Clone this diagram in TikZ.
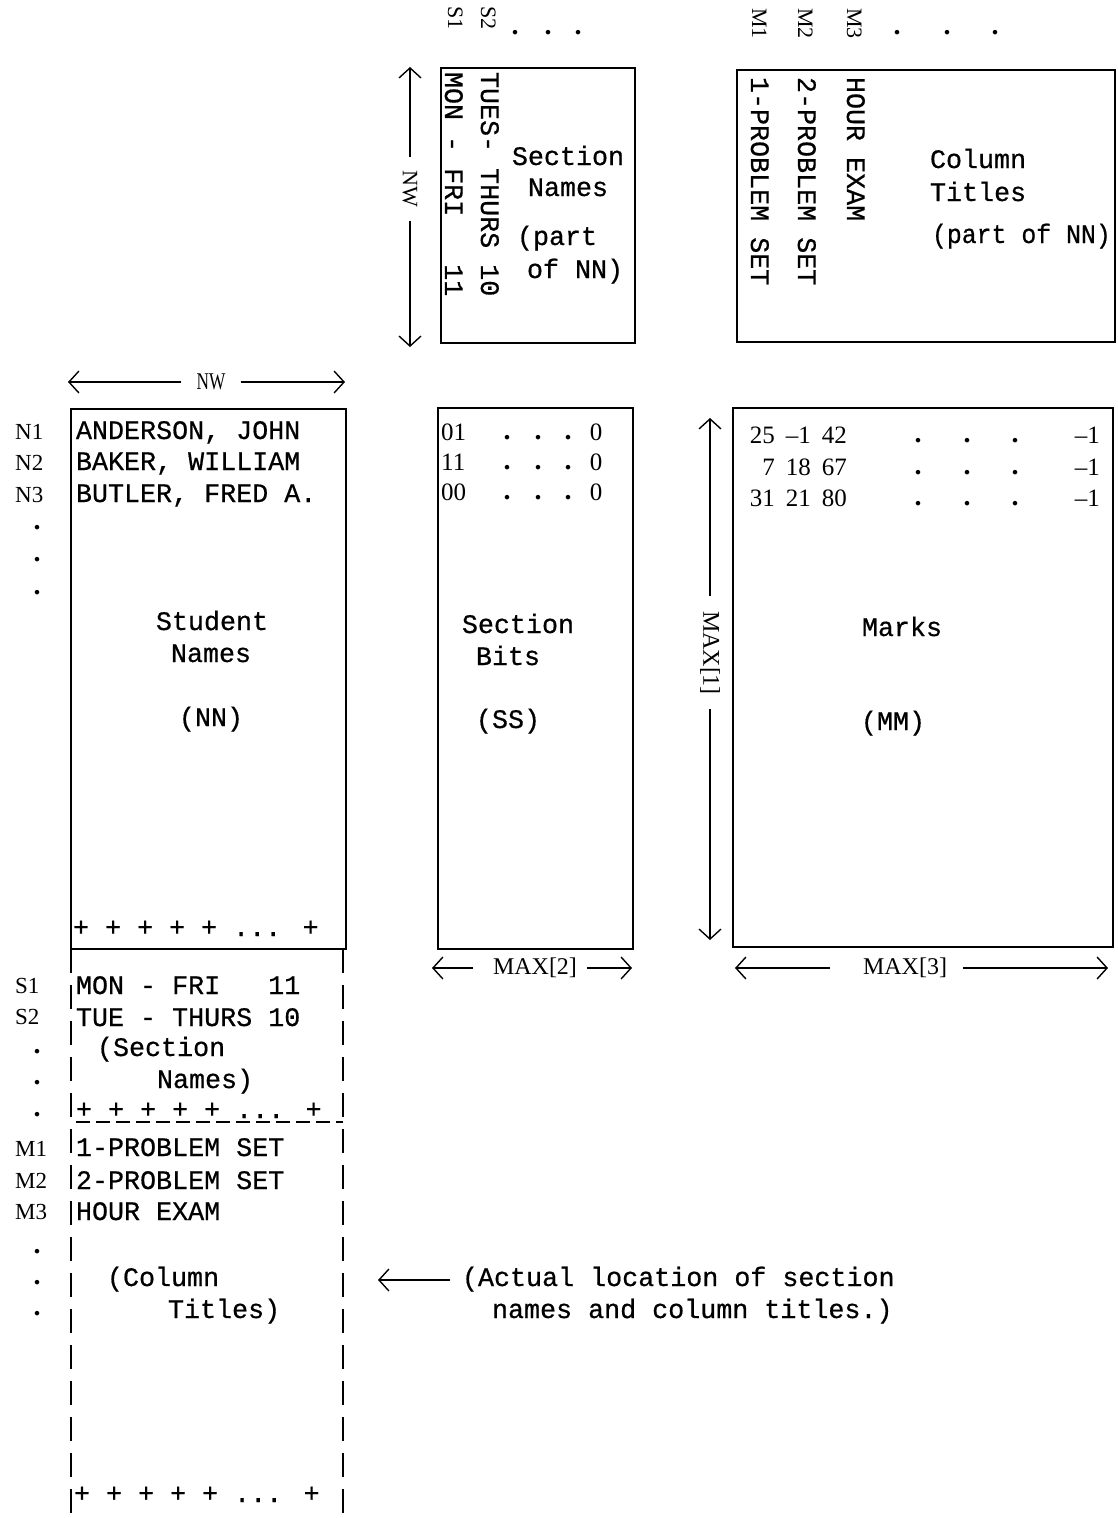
\documentclass[tikz,border=0pt]{standalone}
\usepackage{fontspec}
\setmainfont{Liberation Serif}
\newfontfamily\twfont[FakeBold=0.6]{Liberation Mono}
\usetikzlibrary{arrows.meta}
\begin{document}
\begin{tikzpicture}[x=1pt,y=-1pt,
  tw/.style={font=\twfont\fontsize{26.7}{30}\selectfont, inner sep=0pt, outer sep=0pt},
  twl/.style={tw, anchor=base west},
  twc/.style={tw, anchor=base},
  twr/.style={tw, rotate=-90, anchor=base west},
  lb/.style={font=\fontsize{23}{26}\selectfont, inner sep=0pt, anchor=base west},
  lbr/.style={font=\fontsize{22}{26}\selectfont, inner sep=0pt, rotate=-90, anchor=base west},
  num/.style={font=\fontsize{25}{28}\selectfont, inner sep=0pt, anchor=base east},
  numl/.style={font=\fontsize{25}{28}\selectfont, inner sep=0pt, anchor=base west},
  dotc/.style={font=\bfseries\fontsize{28}{28}\selectfont, inner sep=0pt, anchor=center},
  dimlab/.style={font=\fontsize{24}{28}\selectfont, inner sep=0pt},
  box/.style={draw, line width=2pt, inner sep=0pt, outer sep=0pt, anchor=north west},
  dim/.style={line width=1.4pt, -{Straight Barb[length=10pt,width=22pt,line width=1.4pt]}},
  dashln/.style={line width=2pt, dash pattern=on 24pt off 12pt},
]
\useasboundingbox (0,0) rectangle (1118,1518);

% ---------- boxes ----------
\node[box, minimum width=194pt, minimum height=275pt] (secn) at (441,68) {};
\node[box, minimum width=378pt, minimum height=272pt] (colt) at (737,70) {};
\node[box, minimum width=275pt, minimum height=540pt] (stud) at (71,409) {};
\node[box, minimum width=195pt, minimum height=541pt] (bits) at (438,408) {};
\node[box, minimum width=380pt, minimum height=539pt] (marks) at (733,408) {};

% ---------- top labels ----------
\node[lbr] (s1t) at (448,6) {S1};
\node[lbr] (s2t) at (481,6) {S2};
\node[dotc] (td1) at (515,33) {.};
\node[dotc] (td2) at (548,33) {.};
\node[dotc] (td3) at (578,33) {.};
\node[lbr] (m1t) at (752,8) {M1};
\node[lbr] (m2t) at (798,8) {M2};
\node[lbr] (m3t) at (847,8) {M3};
\node[dotc] (td4) at (897,33) {.};
\node[dotc] (td5) at (947,33) {.};
\node[dotc] (td6) at (995,33) {.};

% section names box contents
\node[twr] (mf) at (445,72) {MON - FRI~~~11};
\node[twr] (tt) at (481,72) {TUES- THURS 10};
\node[twc] (sn1) at (568,165) {Section};
\node[twc] (sn2) at (568,196) {Names};
\node[twl] (sn3) at (517,245) {(part};
\node[twl] (sn4) at (527,278) {of NN)};

% column titles box contents
\node[twr] (p1) at (751,77) {1-PROBLEM SET};
\node[twr] (p2) at (798,77) {2-PROBLEM SET};
\node[twr] (he) at (847,77) {HOUR EXAM};
\node[twl] (ct1) at (930,168) {Column};
\node[twl] (ct2) at (930,201) {Titles};
\node[twl] (ct3) at (932,243) {\scalebox{0.93}[1]{(part of NN)}};

% NW vertical dimension
\node[font=\fontsize{22}{26}\selectfont, inner sep=0pt, rotate=-90] (nwv) at (410,189) {NW};
\coordinate (nwvt) at (410,67);
\coordinate (nwvb) at (410,347);
\draw[dim, shorten <=13pt] (nwv.west) -- (nwvt);
\draw[dim, shorten <=13pt] (nwv.east) -- (nwvb);

% NW horizontal dimension
\node[dimlab] (nwh) at (211,382) {\scalebox{0.72}[1]{NW}};
\coordinate (nwhl) at (68,382);
\coordinate (nwhr) at (345,382);
\draw[dim, shorten <=15pt] (nwh.west) -- (nwhl);
\draw[dim, shorten <=15pt] (nwh.east) -- (nwhr);

% ---------- student names ----------
\node[lb] (n1) at (15,439) {N1};
\node[lb] (n2) at (15,470) {N2};
\node[lb] (n3) at (15,502) {N3};
\node[dotc] (ld1) at (37,528) {.};
\node[dotc] (ld2) at (37,560) {.};
\node[dotc] (ld3) at (37,593) {.};
\node[twl] (r1) at (76,439) {ANDERSON, JOHN};
\node[twl] (r2) at (76,470) {BAKER, WILLIAM};
\node[twl] (r3) at (76,502) {BUTLER, FRED A.};
\node[twc] (st1) at (212,630) {Student};
\node[twc] (st2) at (211,662) {Names};
\node[twc] (st3) at (211,726) {(NN)};
\node[twl] (pl1) at (73,936) {+ + + + + ... +};

% ---------- section bits ----------
\node[numl] (b1) at (441,440) {01};
\node[numl] (b2) at (441,470) {11};
\node[numl] (b3) at (441,500) {00};
\foreach \yy/\nm in {438/a,468/b,498/c}{
  \node[dotc] (bd1\nm) at (507,\yy) {.};
  \node[dotc] (bd2\nm) at (538,\yy) {.};
  \node[dotc] (bd3\nm) at (568,\yy) {.};
}
\node[num, anchor=base] (bz1) at (596,440) {0};
\node[num, anchor=base] (bz2) at (596,470) {0};
\node[num, anchor=base] (bz3) at (596,500) {0};
\node[twc] (sb1) at (518,633) {Section};
\node[twc] (sb2) at (508,665) {Bits};
\node[twc] (sb3) at (508,728) {(SS)};

% ---------- marks ----------
\node[num] (ma1) at (775,443) {25};
\node[num] (ma2) at (811,443) {--1};
\node[num] (ma3) at (847,443) {42};
\node[num] (mb1) at (775,475) {7};
\node[num] (mb2) at (811,475) {18};
\node[num] (mb3) at (847,475) {67};
\node[num] (mc1) at (775,506) {31};
\node[num] (mc2) at (811,506) {21};
\node[num] (mc3) at (847,506) {80};
\foreach \yy/\nm in {441/a,473/b,504/c}{
  \node[dotc] (md1\nm) at (918,\yy) {.};
  \node[dotc] (md2\nm) at (967,\yy) {.};
  \node[dotc] (md3\nm) at (1015,\yy) {.};
}
\node[num] (me1) at (1100,443) {--1};
\node[num] (me2) at (1100,475) {--1};
\node[num] (me3) at (1100,506) {--1};
\node[twc] (mk1) at (902,636) {Marks};
\node[twc] (mk2) at (893,730) {(MM)};

% MAX[1]
\node[dimlab, rotate=-90] (max1) at (710,653) {MAX[1]};
\coordinate (mx1t) at (710,418);
\coordinate (mx1b) at (710,940);
\draw[dim, shorten <=15pt] (max1.west) -- (mx1t);
\draw[dim, shorten <=14pt] (max1.east) -- (mx1b);

% MAX[2]
\node[dimlab] (max2) at (535,968) {MAX[2]};
\coordinate (mx2l) at (432,968);
\coordinate (mx2r) at (632,968);
\draw[dim, shorten <=20pt] (max2.west) -- (mx2l);
\draw[dim, shorten <=10pt] (max2.east) -- (mx2r);

% MAX[3]
\node[dimlab] (max3) at (905,968) {MAX[3]};
\coordinate (mx3l) at (735,968);
\coordinate (mx3r) at (1108,968);
\draw[dim, shorten <=33pt] (max3.west) -- (mx3l);
\draw[dim, shorten <=16pt] (max3.east) -- (mx3r);

% ---------- actual location (dashed) ----------
\coordinate (dl) at (71,1518);
\coordinate (dr) at (343,1518);
\draw[dashln] (stud.south west) -- (dl);
\draw[dashln] ([xshift=-3pt]stud.south east) -- (dr);
\coordinate (hl) at (76,1122);
\coordinate (hr) at (343,1122);
\draw[line width=1.5pt, dash pattern=on 14pt off 6pt] (hl) -- (hr);

\node[lb] (s1) at (15,993) {S1};
\node[lb] (s2) at (15,1024) {S2};
\node[dotc] (sd1) at (37,1052) {.};
\node[dotc] (sd2) at (37,1083) {.};
\node[dotc] (sd3) at (37,1115) {.};
\node[twl] (a1) at (76,994) {MON - FRI~~~11};
\node[twl] (a2) at (76,1026) {TUE - THURS 10};
\node[twl] (a3) at (97,1056) {(Section};
\node[twl] (a4) at (157,1088) {Names)};
\node[twl] (pl2) at (76,1118) {+ + + + + ... +};

\node[lb] (m1) at (15,1156) {M1};
\node[lb] (m2) at (15,1188) {M2};
\node[lb] (m3) at (15,1219) {M3};
\node[dotc] (md1) at (37,1252) {.};
\node[dotc] (md2) at (37,1283) {.};
\node[dotc] (md3) at (37,1314) {.};
\node[twl] (c1) at (76,1156) {1-PROBLEM SET};
\node[twl] (c2) at (76,1189) {2-PROBLEM SET};
\node[twl] (c3) at (76,1220) {HOUR EXAM};
\node[twl] (c4) at (107,1286) {(Column};
\node[twl] (c5) at (168,1318) {Titles)};
\node[twl] (pl3) at (74,1502) {+ + + + + ... +};

% note
\node[twl] (act1) at (462,1286) {(Actual location of section};
\node[twl] (act2) at (492,1318) {names and column titles.)};
\coordinate (actp) at (378,1280);
\draw[dim, shorten <=12pt] (act1.west |- actp) -- (actp);

\end{tikzpicture}
\end{document}
